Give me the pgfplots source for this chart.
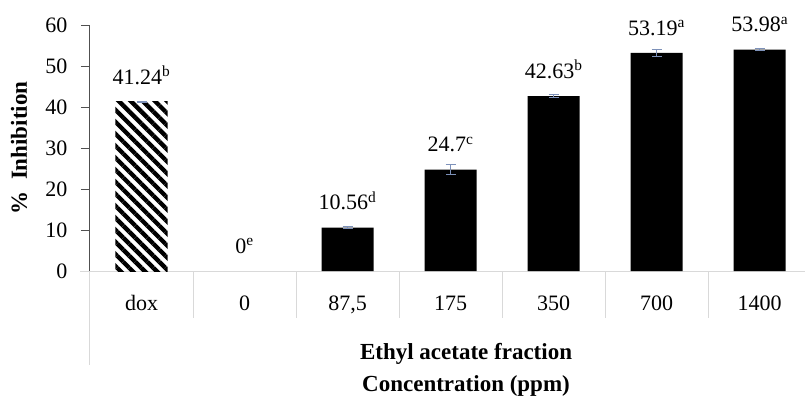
\documentclass[border=0pt]{standalone}
\usepackage{fontspec}
\setmainfont{Liberation Serif}
\usepackage{pgfplots}
\pgfplotsset{compat=1.18}
\usetikzlibrary{patterns.meta}
\definecolor{errc}{RGB}{125,145,185}
\definecolor{gridc}{RGB}{217,217,217}
\definecolor{axc}{RGB}{80,80,80}
\begin{document}
\begin{tikzpicture}[font=\fontsize{22bp}{26bp}\selectfont]
\begin{axis}[
  scale only axis,
  width=715bp, height=246bp,
  xmin=-0.5, xmax=6.44,
  ymin=0, ymax=60,
  ytick={0,10,...,60},
  xtick={0,...,6},
  xticklabels={dox,0,{87,5},175,350,700,1400},
  axis y line*=left,
  axis x line*=bottom,
  x axis line style={draw=gridc, line width=1bp},
  y axis line style={draw=axc, line width=1bp},
  xtick style={draw=none},
  ytick style={draw=axc, line width=1bp},
  tick align=outside,
  major tick length=9bp,
  xticklabel style={yshift=-12bp},
  yticklabel style={xshift=-10bp},
  /pgf/number format/assume math mode=true,
  clip=false,
  point meta=explicit symbolic,
  nodes near coords,
  every node near coord/.append style={yshift=14bp, font=\fontsize{22bp}{26bp}\selectfont},
  error bars/error bar style={draw=errc, line width=0.8bp},
  error bars/error mark options={draw=errc, rotate=90, mark size=5bp, line width=0.8bp},
]
\addplot[ybar, bar width=0.505, bar shift=0, draw=none,
  pattern={Lines[angle=-45,distance=8.5bp,line width=4.3bp]}, pattern color=black,
  error bars/.cd, y dir=both, y explicit]
  coordinates {(0,41.24) +- (0,0.15) [41.24\textsuperscript{b}]};
\addplot[ybar, bar width=0.505, bar shift=0, draw=none, fill=black,
  error bars/.cd, y dir=both, y explicit]
  coordinates {
    (2,10.56) +- (0,0.2) [10.56\textsuperscript{d}]
    (3,24.7) +- (0,1.2) [24.7\textsuperscript{c}]
    (4,42.63) +- (0,0.4) [42.63\textsuperscript{b}]
    (5,53.19) +- (0,0.9) [53.19\textsuperscript{a}]
    (6,53.98) +- (0,0.2) [53.98\textsuperscript{a}]
  };
\addplot[ybar, bar width=0.505, bar shift=0, draw=none, fill=none]
  coordinates {(1,0) [0\textsuperscript{e}]};
% table lines below the axis
\draw[gridc, line width=1bp] (axis cs:-0.5,0) -- ([xshift=-10bp]axis cs:-0.5,0);
\draw[gridc, line width=1bp] (axis cs:-0.5,0) -- ([yshift=-94bp]axis cs:-0.5,0);
\draw[gridc, line width=1bp] (axis cs:0.5,0) -- ([yshift=-47bp]axis cs:0.5,0);
\draw[gridc, line width=1bp] (axis cs:1.5,0) -- ([yshift=-47bp]axis cs:1.5,0);
\draw[gridc, line width=1bp] (axis cs:2.5,0) -- ([yshift=-47bp]axis cs:2.5,0);
\draw[gridc, line width=1bp] (axis cs:3.5,0) -- ([yshift=-47bp]axis cs:3.5,0);
\draw[gridc, line width=1bp] (axis cs:4.5,0) -- ([yshift=-47bp]axis cs:4.5,0);
\draw[gridc, line width=1bp] (axis cs:5.5,0) -- ([yshift=-47bp]axis cs:5.5,0);
\node[font=\fontsize{23bp}{27bp}\selectfont\bfseries, yshift=-83bp] at (axis cs:3.15,0) {Ethyl acetate fraction};
\node[font=\fontsize{23bp}{27bp}\selectfont\bfseries, yshift=-115bp] at (axis cs:3.15,0) {Concentration (ppm)};
\node[font=\fontsize{23bp}{27bp}\selectfont\bfseries, rotate=90] at ([xshift=-71bp]rel axis cs:0,0.5) {\%\ \ Inhibition};
\coordinate (bl) at (rel axis cs:0,0);
\coordinate (tr) at (rel axis cs:1,1);
\end{axis}
\pgfresetboundingbox
\path[use as bounding box] ([xshift=-90bp,yshift=-132bp]bl) rectangle ([yshift=25bp]tr);
\end{tikzpicture}
\end{document}
